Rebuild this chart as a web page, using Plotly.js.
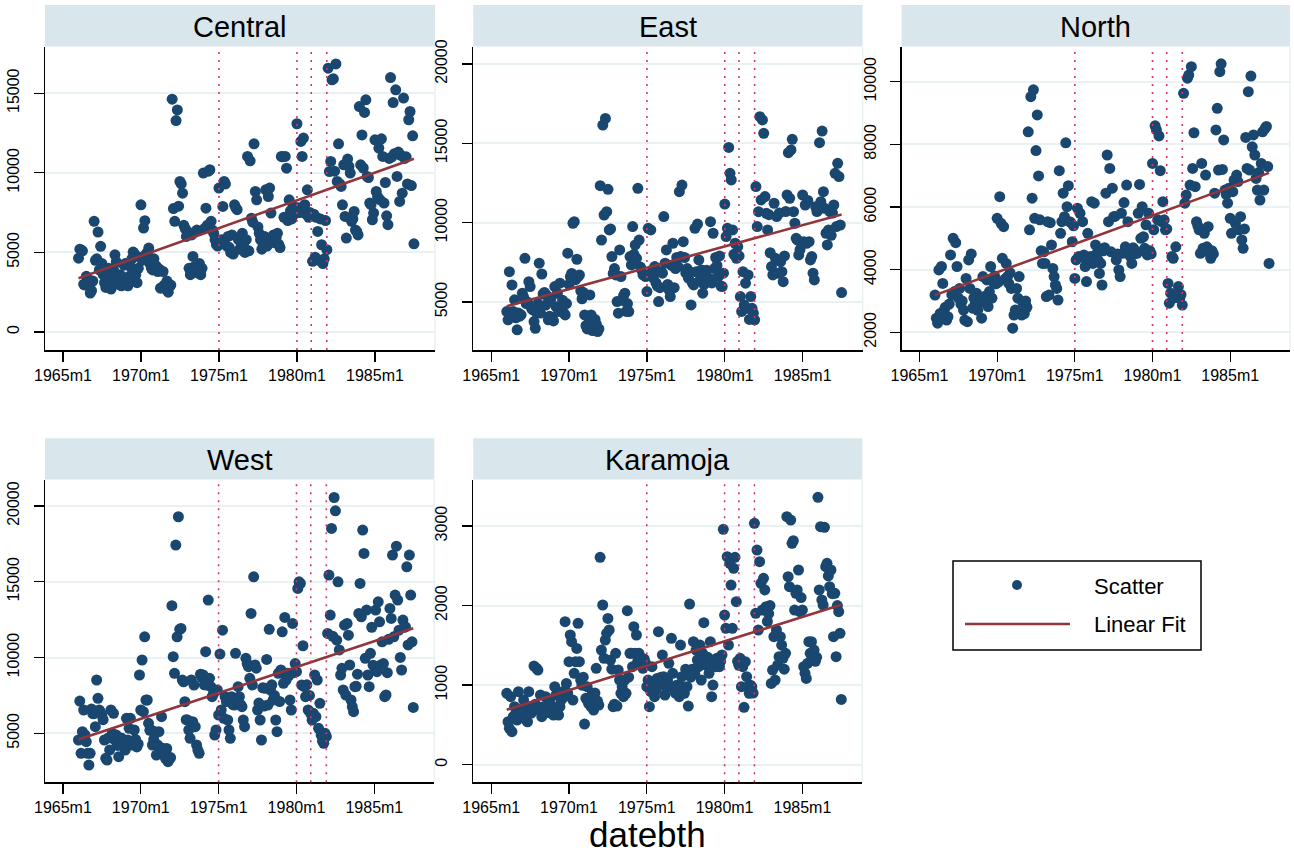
<!DOCTYPE html>
<html>
<head>
<meta charset="utf-8">
<script src="https://cdn.plot.ly/plotly-3.0.1.min.js"></script>
<style>html,body{margin:0;padding:0;background:#fff;}#chart{width:1294px;height:856px;}</style>
</head>
<body>
<div id="chart"></div>
<script>
// Stata monthly dates: 1966m1 (=72) ... 1987m7 (=330)
var firstMonth = 72;
var regions = ["Central", "East", "North", "West", "Karamoja"];
var tickVals = [60, 120, 180, 240, 300];
var tickText = ["1965m1", "1970m1", "1975m1", "1980m1", "1985m1"];
var eventMonths = [180, 240, 251, 263];

var central = [
4640,5200,5150,5100,3000,2950,3500,3350,3100,2450,2600,3200,
6950,4500,4600,6280,3900,5380,4300,3600,3100,2800,3400,4000,
3500,2700,3300,3900,4850,4400,3200,3000,3600,2900,3400,4200,
4300,3200,2900,3500,4100,4600,5020,4900,3600,3100,4000,4700,
7990,4500,6530,6990,4900,5000,5270,4300,4000,3900,4600,4200,
4100,3800,3950,2750,2800,3800,2950,2700,3200,2500,2850,2950,
14620,7750,6950,13280,13950,7900,9460,9300,8720,6700,6500,6000,
6300,4000,3600,6100,4750,4100,3800,6400,3700,4300,3600,4000,
9980,6500,7780,6700,10100,10190,6950,6400,6200,5800,5500,5400,
9040,5600,5800,7890,9460,9300,5400,6000,5300,5000,6100,4900,
7990,7800,7680,5800,5200,5600,6200,5400,5000,5800,11030,5100,
10750,7150,6900,11820,8830,8300,6600,6200,5800,5200,5500,6000,
8930,5400,8510,9040,7470,5800,6100,5600,5900,6200,5500,5300,
11030,11000,7200,11030,10290,7000,8300,7600,7100,7900,7400,7700,
13080,7800,7500,11970,11030,12180,8000,7400,8930,7200,7500,7300,
4440,7400,4700,7200,6320,4500,7100,5480,4300,4600,7000,5170,
16570,10080,10710,15840,15900,10100,16840,9460,11820,9300,9140,7990,
10500,7260,5900,10860,10400,9980,6950,7100,7570,6400,6320,6100,
14160,10500,12380,10300,13790,14580,9770,9700,8100,8000,7050,7470,
12070,8830,8500,11550,8300,12130,11030,8100,9390,7300,6740,10900,
15980,11000,14410,11200,15210,9770,11300,8200,11100,8720,14690,10900,
11000,9300,13330,13850,9200,12320,5540
];
var east = [
4390,3870,6910,4200,6070,4400,5130,4000,3240,4300,4100,4180,
5550,5300,7750,4900,5000,6280,5970,4600,4500,3760,3340,4300,
4900,7440,4300,6760,5500,5600,4800,5400,3870,4100,5200,4000,
3800,5970,4700,5550,4400,6180,4600,5100,4300,4180,4900,8070,
6100,6600,6800,9960,10060,6400,7690,6600,6700,5700,5200,5600,
4180,3500,3300,3650,5440,4180,3200,3700,3900,3600,3130,3300,
12330,8900,16150,10480,16570,10690,12100,9540,9600,7860,6800,7100,
6700,5020,4290,8280,6600,5100,5400,5550,4400,4900,4390,7860,
7330,9750,8000,8590,7750,12160,8900,7200,7000,6700,6900,6600,
5650,9640,6800,9540,7000,6500,7230,6200,6000,5020,5900,6900,
6810,10380,7440,8280,6100,5760,5340,7300,8700,5900,7100,7800,
7230,11950,7860,12370,8800,7800,6810,7100,6500,6900,4810,6200,
6070,9640,6900,9910,7650,6390,7020,5550,6100,6500,7000,6300,
6500,10060,6200,9330,7100,7800,7300,6600,7900,6000,5970,6810,
11170,9120,9640,14740,13110,12690,9540,8000,8700,7750,8490,7900,
5340,4400,6910,4800,6180,4600,6700,3900,5340,4600,4290,3870,
12270,9750,10690,16680,11430,16470,15630,11640,10590,9540,10500,8100,
7230,6700,11220,7750,10380,6810,10600,7540,6910,6280,7900,10700,
11740,14410,11530,14580,15250,10690,9960,9010,8900,7960,8300,8700,
11740,8800,11110,8700,11400,8800,7650,7860,6810,6390,11000,10700,
10800,15040,11320,15770,11950,10900,9330,8590,9540,10700,9200,10600,
11110,13110,9750,13740,12900,9850,5590
];
var north = [
3190,2450,2290,3990,2600,4100,3560,2700,2800,2390,2500,2900,
4470,3200,5000,3300,4860,4100,3100,3400,2900,3000,2710,2390,
3720,2340,4310,3400,4500,2770,3100,2900,3250,2700,3000,2950,
2450,3780,3140,3000,3670,2820,3300,4100,3090,3600,3800,3550,
5640,3600,6330,5480,4360,5370,3700,4200,3780,3560,3900,3400,
2130,2550,2710,3400,3090,3780,2610,2550,2930,2600,3000,2800,
8400,5270,9520,6280,9740,5640,7800,8940,6990,5590,4600,4200,
4570,4200,3140,5530,3190,5500,4790,4040,3780,3510,3400,3030,
7160,5160,5530,6440,5690,8050,6010,6680,5530,5500,4890,5400,
3720,4310,5960,4420,5800,4400,5530,4470,4100,3620,5160,4300,
4420,6170,4200,6120,4790,4520,4300,3880,4200,3510,4600,4700,
6440,7660,5530,7230,4570,6600,5690,5700,4310,4500,3990,3780,
5800,4520,6140,4730,6700,5530,4630,4420,4200,4700,4500,4600,
4520,5800,6720,5000,6010,5050,4680,5430,4470,5800,4600,4500,
7390,5270,8590,8460,5590,8270,7160,5530,6170,5590,5270,5300,
3560,2930,3250,4420,4360,3100,4730,3140,3460,3090,3200,2870,
9630,6120,6380,10110,10210,6700,10480,7230,8370,6650,5530,5400,
5270,4520,7390,4680,5160,7020,4730,5370,4520,4360,4600,4500,
6440,8460,9150,7180,10320,10570,7200,8140,6540,6400,6120,6600,
5640,5160,6490,6860,5480,7020,6810,5270,5690,4950,4680,5300,
8220,7230,9680,7180,10180,7920,8300,7660,6910,6540,7100,6220,
7390,8400,6540,8510,8570,7290,4200
];
var west = [
4560,7130,3680,5110,6540,4890,4450,3680,2910,3680,6600,6300,
6300,5440,8520,7310,6540,6400,6200,5900,4560,3350,3240,4700,
3900,6540,5000,6320,4560,4890,4200,3460,4230,4700,4500,4400,
3900,5990,4560,5330,5990,4230,4340,5220,4600,4100,4300,8850,
6540,9840,6430,11370,7200,7200,5660,5200,5220,4230,4600,5100,
3570,4230,5110,3900,6100,4010,3600,3350,4000,3130,3300,3400,
13420,10060,8960,17420,11370,19290,11860,11920,8520,8400,7090,5900,
5880,5220,4670,8520,5770,8190,5440,4230,3900,3680,8900,8700,
8850,8200,10390,8190,13790,8630,8080,7420,7600,4890,5220,7860,
6210,10230,6540,11810,5990,7420,7100,5880,5220,4670,7420,6900,
6870,10280,7200,8080,7420,6900,6760,5880,5440,9950,9600,9400,
8630,12910,8190,15330,9510,9300,6540,7000,5880,4560,8000,6800,
7970,9880,6870,11860,7860,8200,7200,7500,5880,5110,8960,7100,
9180,11700,8300,12650,8520,8960,8800,7200,6540,12250,9000,9600,
9070,14560,15000,14890,8190,10780,8080,7420,8200,6540,7500,6300,
5880,6320,8850,6100,8520,5330,6980,4890,4500,4340,5000,4800,
11590,15440,12800,18520,11400,20560,19680,11150,15000,10500,8850,9290,
7860,12140,7530,12250,11480,9510,7200,6760,6430,8080,8100,8900,
12910,14890,12690,18410,16870,9950,13130,8850,8080,10280,12000,9500,
9400,13130,9070,13680,12360,9510,11040,9600,7420,7530,9000,11200,
13240,12580,16760,11370,14120,17350,13790,11810,10010,9180,12470,12000,
12030,15990,10830,16760,14120,11040,6710
];
var karamoja = [
897,540,457,855,415,603,729,645,561,918,690,620,
687,813,603,561,540,918,729,650,700,1240,760,1211,
1190,687,876,603,729,645,855,687,760,800,650,700,
624,980,876,729,624,729,813,918,850,1797,1022,900,
1295,1630,1546,813,1148,1295,1462,1777,1295,1064,1000,1100,
511,834,980,771,792,729,897,687,900,1211,800,750,
2606,1441,2007,1337,1567,1651,1839,1693,1316,1200,729,760,
1400,737,1190,1064,897,980,855,1064,897,1936,1100,1400,
1400,1232,1735,1400,1630,1300,1400,1316,1250,1211,1330,1280,
980,1064,729,918,1232,980,855,939,1085,1672,1000,1100,
1379,1106,876,980,1064,1274,980,1588,1148,950,900,1000,
939,855,1504,1106,980,897,1200,980,737,2019,1100,1200,
1546,1148,1441,1316,1232,1504,1064,1400,1785,1300,1250,1350,
1148,1546,855,1001,1316,1232,1337,1250,1232,1300,1380,2958,
1881,1714,2614,1504,2531,2258,1714,2468,2606,2049,1300,1250,
1337,980,1232,721,1295,1106,980,897,1000,980,900,3034,
1902,2698,1693,2552,2279,1944,2342,2196,1986,1800,1900,2000,
1022,1190,1609,1064,1693,1253,1358,1609,1504,1337,1200,1400,
3117,2363,2237,3075,2782,2816,1944,2154,2196,2447,1923,2100,
1944,1232,1148,1085,1274,1546,1400,1546,1337,1441,1300,1350,
3360,2196,2991,2070,2007,2983,2489,2531,2372,2237,2447,2150,
1609,2154,1358,2000,1923,1651,821
];
var series = [central, east, north, west, karamoja];
var yTicks = [[0,5000,10000,15000],[5000,10000,15000,20000],[2000,4000,6000,8000,10000],[5000,10000,15000,20000],[0,1000,2000,3000]];

// ---- layout geometry (pixels) ----
var W = 1294, H = 856;
var panels = [
  {x0:45, x1:435, y0:47, y1:350, yr:[-1130,17900]},
  {x0:473.3, x1:862.6, y0:47, y1:350, yr:[1970,21070]},
  {x0:901.6, x1:1290, y0:47, y1:350, yr:[1435,11107]},
  {x0:45, x1:434.3, y0:480, y1:782.3, yr:[1770,21715]},
  {x0:473.3, x1:862.3, y0:480, y1:782.3, yr:[-221,3578]}
];
var stripTop = [5, 5, 5, 438.3, 438.3];

var navy = '#1a476f', maroon = '#90353b', red = '#e0306a';
var fontFam = 'Liberation Sans, Arial, Helvetica, sans-serif';
var traces = [], shapes = [], annotations = [];
var layout = {
  width: W, height: H, margin: {l:0, r:0, t:0, b:0},
  paper_bgcolor: '#ffffff', plot_bgcolor: '#ffffff',
  showlegend: false, font: {family: fontFam, color: '#000'}
};

function linfit(xs, ys) {
  var n = xs.length, sx = 0, sy = 0, sxx = 0, sxy = 0;
  for (var i = 0; i < n; i++) { sx += xs[i]; sy += ys[i]; sxx += xs[i]*xs[i]; sxy += xs[i]*ys[i]; }
  var b = (n*sxy - sx*sy) / (n*sxx - sx*sx);
  var a = (sy - b*sx) / n;
  return [a, b];
}

panels.forEach(function(p, k) {
  var ax = k === 0 ? '' : String(k+1);
  var xa = 'xaxis' + ax, ya = 'yaxis' + ax;
  var xs = series[k].map(function(_, i) { return firstMonth + i; });
  traces.push({
    type: 'scatter', mode: 'markers', x: xs, y: series[k],
    xaxis: 'x' + ax, yaxis: 'y' + ax, name: 'Scatter',
    marker: {color: navy, size: 11, line: {width: 0}}, hoverinfo: 'x+y'
  });
  var f = linfit(xs, series[k]);
  var xe = [xs[0], xs[xs.length-1]];
  traces.push({
    type: 'scatter', mode: 'lines', x: xe, y: xe.map(function(v){ return f[0] + f[1]*v; }),
    xaxis: 'x' + ax, yaxis: 'y' + ax, name: 'Linear Fit',
    line: {color: maroon, width: 2.6}
  });
  layout[xa] = {
    domain: [p.x0/W, p.x1/W], range: [46.2, 346.2], anchor: 'y' + ax,
    tickmode: 'array', tickvals: tickVals, ticktext: tickText,
    ticks: 'outside', ticklen: 10, tickwidth: 1.3, tickcolor: '#000',
    showline: true, linecolor: '#000', linewidth: 1.5, showgrid: false, zeroline: false,
    tickfont: {size: 16, family: fontFam, color: '#000'}
  };
  layout[ya] = {
    domain: [1 - p.y1/H, 1 - p.y0/H], range: p.yr, anchor: 'x' + ax,
    tickmode: 'array', tickvals: yTicks[k], tickformat: 'd', tickangle: -90,
    ticks: 'outside', ticklen: 10, tickwidth: 1.3, tickcolor: '#000',
    showline: true, linecolor: '#000', linewidth: 1.5,
    showgrid: true, gridcolor: '#e9f1f3', gridwidth: 2, zeroline: false,
    tickfont: {size: 16, family: fontFam, color: '#000'}, ticklabelstandoff: 8
  };
  // light frame on the right
  shapes.push({type:'line', xref: 'x' + ax + ' domain', yref: 'y' + ax + ' domain',
    x0: 1, x1: 1, y0: 0, y1: 1, line: {color: '#e9f1f3', width: 1.5}, layer: 'below'});
  // event lines
  eventMonths.forEach(function(m) {
    shapes.push({type: 'line', xref: 'x' + ax, yref: 'y' + ax + ' domain', x0: m, x1: m, y0: 0, y1: 1,
      line: {color: red, width: 1.6, dash: '2px,6px'}, layer: 'above'});
  });
  // title strip
  shapes.push({type: 'rect', xref: 'paper', yref: 'paper', x0: p.x0/W, x1: p.x1/W,
    y0: 1 - (p.y0 - 0.5)/H, y1: 1 - stripTop[k]/H, fillcolor: '#d9e6ec', line: {width: 0}});
  annotations.push({xref: 'paper', yref: 'paper', x: (p.x0 + p.x1)/2/W, y: 1 - ((p.y0 + stripTop[k])/2 + 1)/H,
    text: regions[k], showarrow: false, xanchor: 'center', yanchor: 'middle',
    font: {size: 29, family: fontFam, color: '#000'}});
});

// overall x title
annotations.push({xref: 'paper', yref: 'paper', x: 647/W, y: 1 - 834/H, text: 'datebth',
  showarrow: false, xanchor: 'center', yanchor: 'middle', font: {size: 35, family: fontFam, color: '#000'}});

// legend box
shapes.push({type: 'rect', xref: 'paper', yref: 'paper', x0: 953/W, x1: 1201/W, y0: 1 - 650/H, y1: 1 - 561/H,
  line: {color: '#000', width: 1.5}, fillcolor: '#fff'});
shapes.push({type: 'circle', xref: 'paper', yref: 'paper', x0: 1012/W, x1: 1022/W, y0: 1 - 590/H, y1: 1 - 580/H,
  fillcolor: navy, line: {width: 0}});
shapes.push({type: 'line', xref: 'paper', yref: 'paper', x0: 965/W, x1: 1070/W, y0: 1 - 624/H, y1: 1 - 624/H,
  line: {color: maroon, width: 2.6}});
annotations.push({xref: 'paper', yref: 'paper', x: 1092/W, y: 1 - 586/H, text: 'Scatter', showarrow: false,
  xanchor: 'left', yanchor: 'middle', font: {size: 22, family: fontFam, color: '#000'}});
annotations.push({xref: 'paper', yref: 'paper', x: 1092/W, y: 1 - 624/H, text: 'Linear Fit', showarrow: false,
  xanchor: 'left', yanchor: 'middle', font: {size: 22, family: fontFam, color: '#000'}});

layout.shapes = shapes;
layout.annotations = annotations;
Plotly.newPlot('chart', traces, layout, {staticPlot: true, displayModeBar: false});
</script>
</body>
</html>
